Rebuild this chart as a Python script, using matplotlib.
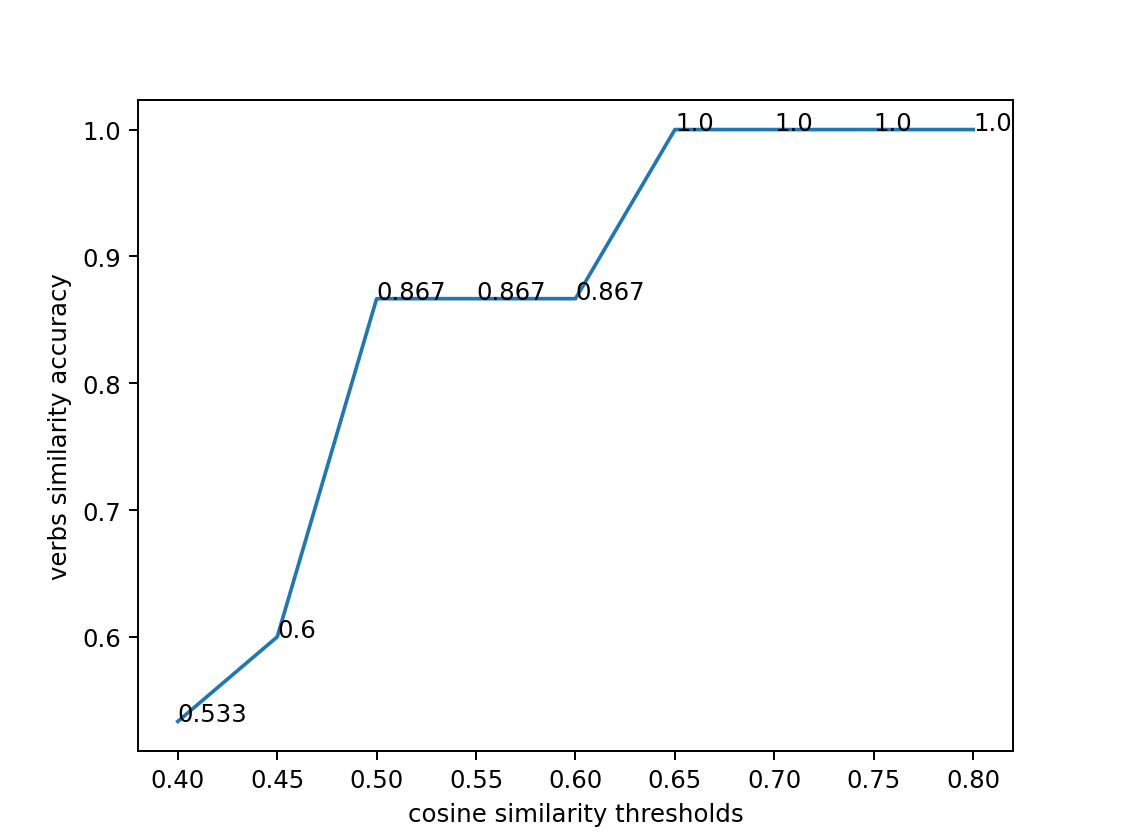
import matplotlib
matplotlib.use("Agg")
import matplotlib.pyplot as plt

thresholds = [0.40, 0.45, 0.50, 0.55, 0.60, 0.65, 0.70, 0.75, 0.80]
accuracy = [0.5333333, 0.6, 0.8666667, 0.8666667, 0.8666667, 1.0, 1.0, 1.0, 1.0]

fig = plt.figure(figsize=(1123 / 175.5, 838 / 175.5), dpi=175.5)
plt.subplots_adjust(left=0.1229, right=0.902, top=0.8795, bottom=0.1026)
plt.plot(thresholds, accuracy)
for x, y in zip(thresholds, accuracy):
    plt.text(x, y, str(round(y, 3)))
plt.xlabel("cosine similarity thresholds")
plt.ylabel("verbs similarity accuracy")
plt.savefig("out.png", dpi=175.5)
